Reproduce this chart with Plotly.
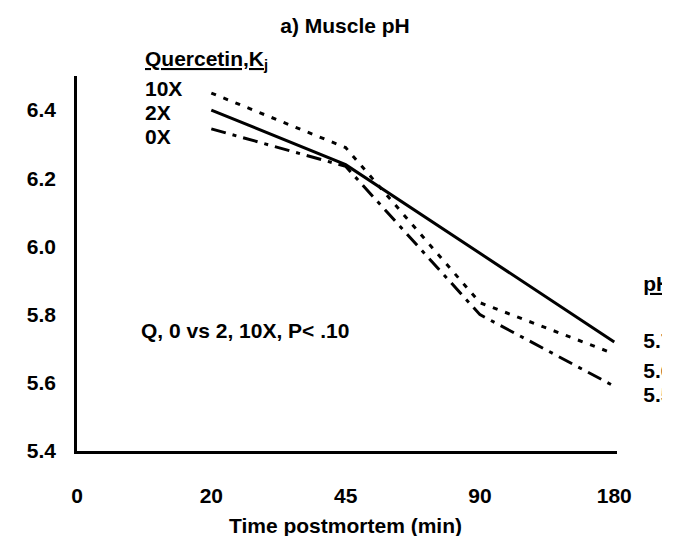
import plotly.graph_objects as go

# time points (min postmortem) and muscle pH for each quercetin level
time_labels = ["0", "20", "45", "90", "180"]
time_idx = [0, 1, 2, 3, 4]
sample_idx = [1, 2, 3, 4]  # no sample at 0 min

ph_10x = [6.45, 6.29, 5.835, 5.685]
ph_2x = [6.40, 6.24, 5.98, 5.72]
ph_0x = [6.345, 6.235, 5.80, 5.59]

# right hand column (clipped in the original figure)
end_labels = ["pH", "5.72", "5.68", "5.59"]
end_label_pos = [5.885, 5.718, 5.63, 5.56]

FONT = "Liberation Sans, Arial, sans-serif"
FS = 21
W, H = 681, 536

fig = go.Figure()
fig.add_trace(go.Scatter(x=sample_idx, y=ph_10x, mode="lines", name="10X",
                         line=dict(color="black", width=3, dash="5px,8px")))
fig.add_trace(go.Scatter(x=sample_idx, y=ph_2x, mode="lines", name="2X",
                         line=dict(color="black", width=3)))
fig.add_trace(go.Scatter(x=sample_idx, y=ph_0x, mode="lines", name="0X",
                         line=dict(color="black", width=3, dash="15px,7px,4px,7px")))

# the right column lives in its own little subplot so the text gets cut off like the original
end_text = ["<b><u>" + end_labels[0] + "</u></b>"] + ["<b>" + t + "</b>" for t in end_labels[1:]]
fig.add_trace(go.Scatter(x=[0] * len(end_labels), y=end_label_pos, mode="text",
                         text=end_text, textposition="middle right", cliponaxis=True,
                         textfont=dict(family=FONT, size=FS, color="black"),
                         xaxis="x2", yaxis="y2", hoverinfo="skip"))

fig.update_layout(
    width=W, height=H,
    margin=dict(l=69, r=12, t=68, b=93),
    paper_bgcolor="white", plot_bgcolor="white",
    showlegend=False,
    font=dict(family=FONT, size=FS, color="black"),
    title=dict(text="<b>a) Muscle pH</b>", x=337 / W, xanchor="center",
               y=1 - 18 / H, yanchor="middle", yref="container",
               font=dict(family=FONT, size=FS, color="black")),
    xaxis=dict(domain=[0, 0.923], range=[0, 4.02], tickvals=time_idx,
               ticktext=["<b>" + t + "</b>" for t in time_labels],
               showgrid=False, zeroline=False, showline=True, linecolor="black",
               linewidth=2.5, ticks="", ticklabelstandoff=24),
    yaxis=dict(range=[5.4, 6.5], tickvals=[5.4, 5.6, 5.8, 6.0, 6.2, 6.4],
               ticktext=["<b>%.1f</b>" % v for v in [5.4, 5.6, 5.8, 6.0, 6.2, 6.4]],
               showgrid=False, zeroline=False, showline=True, linecolor="black",
               linewidth=2.5, ticks="", ticklabelstandoff=14),
    xaxis2=dict(domain=[0.968, 1.0], range=[0, 1], visible=False, anchor="y2"),
    yaxis2=dict(domain=[0, 1], range=[5.4, 6.5], visible=False, anchor="x2"),
)

# legend is just text in the original
notes = [
    ("<b><u>Quercetin,K<sub>j</sub></u></b>", 137, 52),
    ("<b>10X</b>", 137, 80),
    ("<b>2X</b>", 137, 104),
    ("<b>0X</b>", 137, 128),
    ("<b>Q, 0 vs 2, 10X, P< .10</b>", 133, 322),
]
for txt, px, py in notes:
    fig.add_annotation(text=txt, xref="paper", yref="paper",
                       x=(px - 69) / 600, y=(443 - py) / 375,
                       xanchor="left", yanchor="middle", showarrow=False,
                       font=dict(family=FONT, size=FS, color="black"))

fig.add_annotation(text="<b>Time postmortem (min)</b>", xref="paper", yref="paper",
                   x=(344 - 69) / 600, y=(443 - 517) / 375, xanchor="center",
                   yanchor="middle", showarrow=False,
                   font=dict(family=FONT, size=FS, color="black"))

fig.write_html("out.html")
